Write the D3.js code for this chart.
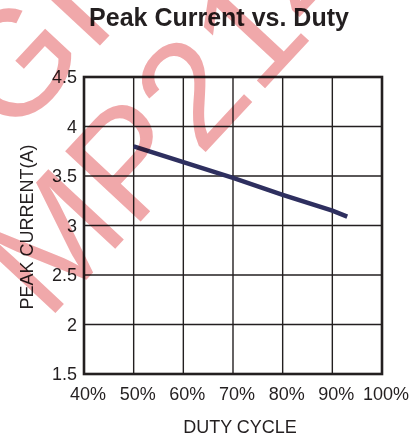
<!DOCTYPE html>
<html>
<head>
<meta charset="utf-8">
<script src="https://cdn.jsdelivr.net/npm/d3@7"></script>
<style>
  body { margin: 0; background: #fff; }
  svg { display: block; font-family: "Liberation Sans", Arial, sans-serif; }
</style>
</head>
<body>
<div id="chart"></div>
<script>
// data
const duty = [50, 60, 70, 80, 90, 93];
const peakCurrent = [3.80, 3.64, 3.48, 3.31, 3.15, 3.09];
const xTicks = [40, 50, 60, 70, 80, 90, 100];
const yTicks = [1.5, 2, 2.5, 3, 3.5, 4, 4.5];

// dims
const width = 419;
const height = 439;
const margin = {top: 77, right: 37, bottom: 65, left: 84};
const plotW = width - margin.left - margin.right;
const plotH = height - margin.top - margin.bottom;
const ink = "#231f20";

const svg = d3.select("#chart")
    .append("svg")
    .attr("width", width)
    .attr("height", height);

const g = svg.append("g")
    .attr("transform", `translate(${margin.left},${margin.top})`);

// scales
const x = d3.scaleLinear().domain([40, 100]).range([0, plotW]);
const y = d3.scaleLinear().domain([1.5, 4.5]).range([plotH, 0]);

// grid
g.selectAll(".vgrid")
    .data(xTicks)
    .enter()
    .append("line")
    .attr("x1", d => x(d)).attr("x2", d => x(d))
    .attr("y1", 0).attr("y2", plotH)
    .attr("stroke", ink)
    .attr("stroke-width", 1.4);

g.selectAll(".hgrid")
    .data(yTicks)
    .enter()
    .append("line")
    .attr("x1", 0).attr("x2", plotW)
    .attr("y1", d => y(d)).attr("y2", d => y(d))
    .attr("stroke", ink)
    .attr("stroke-width", 1.4);

// frame
g.append("rect")
    .attr("width", plotW)
    .attr("height", plotH)
    .attr("fill", "none")
    .attr("stroke", ink)
    .attr("stroke-width", 2.6);

// tick labels
g.selectAll(".ylab")
    .data(yTicks)
    .enter()
    .append("text")
    .text(d => d)
    .attr("x", -7)
    .attr("y", d => y(d))
    .attr("dy", "0.36em")
    .attr("text-anchor", "end")
    .attr("font-size", 18)
    .attr("fill", ink);

g.selectAll(".xlab")
    .data(xTicks)
    .enter()
    .append("text")
    .text(d => d + "%")
    .attr("x", d => x(d) + 4)
    .attr("y", plotH + 26)
    .attr("text-anchor", "middle")
    .attr("font-size", 18)
    .attr("fill", ink);

// series line
const line = d3.line()
    .x((d, i) => x(duty[i]))
    .y(d => y(d));

g.append("path")
    .datum(peakCurrent)
    .attr("d", line)
    .attr("fill", "none")
    .attr("stroke", "#2e2f5f")
    .attr("stroke-width", 4.5);

// titles
svg.append("text")
    .text("Peak Current vs. Duty")
    .attr("x", 219)
    .attr("y", 26)
    .attr("text-anchor", "middle")
    .attr("font-size", 25)
    .attr("font-weight", "bold")
    .attr("fill", ink);

svg.append("text")
    .text("DUTY CYCLE")
    .attr("x", 240)
    .attr("y", 433)
    .attr("text-anchor", "middle")
    .attr("font-size", 18)
    .attr("fill", ink);

svg.append("text")
    .text("PEAK CURRENT(A)")
    .attr("transform", "translate(33,227) rotate(-90)")
    .attr("text-anchor", "middle")
    .attr("font-size", 18)
    .attr("fill", ink);

// watermark
svg.append("text")
    .text("MP2145")
    .attr("transform", "translate(47,322) rotate(-47)")
    .attr("font-size", 150)
    .attr("fill", "#f0a8aa")
    .style("mix-blend-mode", "multiply");

svg.append("text")
    .text("GI")
    .attr("transform", "translate(11,141) rotate(-47)")
    .attr("font-size", 150)
    .attr("fill", "#f0a8aa")
    .style("mix-blend-mode", "multiply");
</script>
</body>
</html>
